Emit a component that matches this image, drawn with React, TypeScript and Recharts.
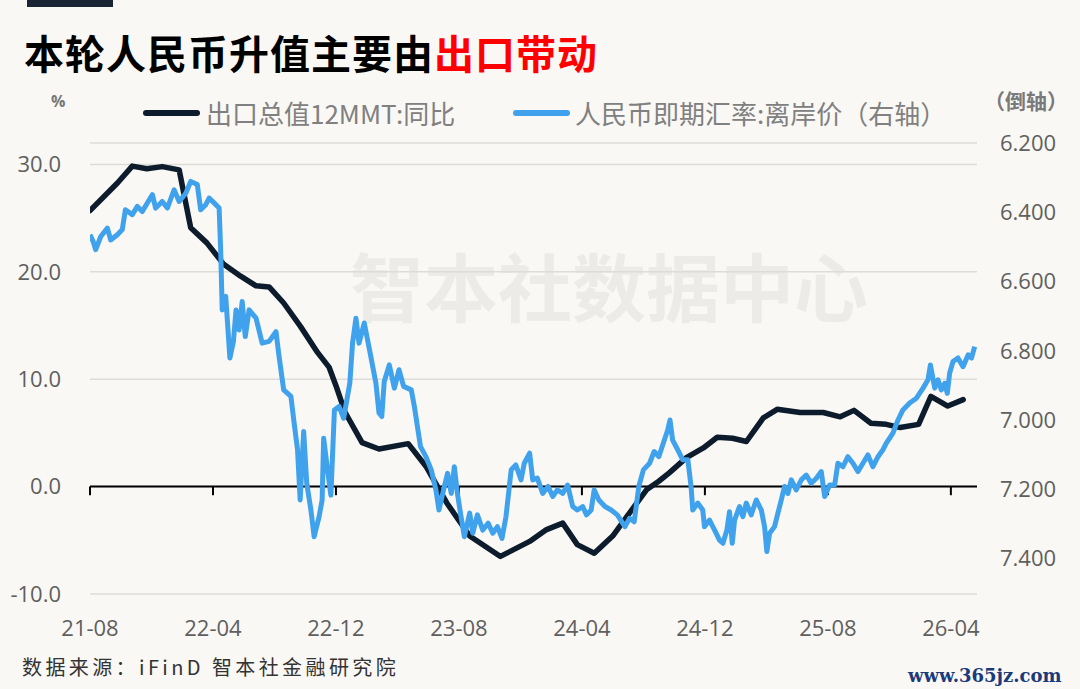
import React from 'react';
import { LineChart, Line, XAxis, YAxis, CartesianGrid, ReferenceLine } from 'recharts';

// months counted from 2021-08 (0) ; x-axis tick labels every 8 months
const tickMonths = [0, 8, 16, 24, 32, 40, 48, 56];
const tickLabels = ['21-08', '22-04', '22-12', '23-08', '24-04', '24-12', '25-08', '26-04'];

const leftTicks = [-10, 0, 10, 20, 30];
const rightTicks = [6.2, 6.4, 6.6, 6.8, 7.0, 7.2, 7.4];

// 出口总值12MMT:同比 (%)
const exportMonths = [
  0, 1.8, 2.75, 3.7, 4.7, 5.8, 6.55, 7.6, 8.7, 9.8, 10.8, 11.65, 12.6, 13.7, 14.8, 15.56, 16.0, 16.6,
  17.7, 18.8, 20.7, 21.85, 23.2, 24.7, 26.7, 28.6, 29.7, 30.75, 31.7, 32.8, 34.0, 35.1, 36.2, 37.0,
  37.7, 38.8, 39.9, 40.8, 41.8, 42.7, 43.8, 44.7, 46.2, 47.7, 48.8, 49.7, 50.8, 51.8, 52.7, 53.9,
  54.7, 55.8, 56.8,
];
const exportYoY = [
  25.7, 28.3, 29.85, 29.6, 29.8, 29.5, 24.1, 22.7, 20.7, 19.6, 18.7, 18.6, 17.1, 14.9, 12.5, 11.1, 9.4, 6.9,
  4.1, 3.5, 4.0, 1.9, -1.5, -4.6, -6.5, -5.1, -4.0, -3.4, -5.4, -6.2, -4.6, -2.45, -0.3, 0.5,
  1.3, 2.7, 3.6, 4.6, 4.5, 4.2, 6.4, 7.2, 6.9, 6.9, 6.5, 7.1, 5.9, 5.8, 5.5, 5.8,
  8.4, 7.5, 8.1,
];

// 人民币即期汇率:离岸价 (右轴, 倒轴)
const cnhMonths = [
  0, 0.2, 0.37, 0.7, 1.13, 1.35, 1.78, 2.1, 2.3, 2.75, 3.08, 3.4, 3.73, 4.06, 4.27, 4.7, 5.03, 5.47,
  5.8, 6.23, 6.55, 6.98, 7.2, 7.53, 7.75, 8.07, 8.4, 8.5, 8.6, 8.83, 9.1, 9.33, 9.5, 9.7, 9.9, 10.1,
  10.35, 10.8, 11.2, 11.65, 12.1, 12.3, 12.6, 13.07, 13.28, 13.5, 13.67, 13.9, 14.1, 14.37, 14.58,
  14.9, 15.1, 15.2, 15.45, 15.67, 15.9, 16.2, 16.5, 16.9, 17.08, 17.3, 17.5, 17.84, 18.16, 18.6, 18.8,
  18.98, 19.14, 19.47, 19.8, 20.1, 20.4, 20.9, 21.1, 21.3, 21.5, 21.85, 22.2, 22.5, 22.7, 23.05, 23.26,
  23.5, 23.7, 23.9, 24.1, 24.35, 24.7, 24.9, 25.2, 25.55, 25.9, 26.2, 26.5, 26.8, 27.06, 27.4, 27.7,
  28.04, 28.25, 28.6, 28.8, 29.1, 29.45, 29.8, 30.1, 30.4, 30.75, 31.07, 31.4, 31.7, 32.05, 32.3, 32.6,
  32.8, 33.1, 33.5, 33.9, 34.3, 34.8, 35.1, 35.4, 35.7, 36.0, 36.4, 36.7, 37.0, 37.58, 37.73, 37.9,
  38.23, 38.56, 38.89, 39.1, 39.21, 39.54, 39.86, 39.97, 40.3, 40.63, 40.95, 41.17, 41.43, 41.6, 41.78,
  41.93, 42.25, 42.47, 42.69, 43.01, 43.34, 43.67, 43.88, 44.03, 44.21, 44.53, 44.75, 44.97, 45.18,
  45.4, 45.62, 45.94, 46.27, 46.59, 46.92, 47.25, 47.57, 47.79, 48.11, 48.44, 48.65, 48.98, 49.3,
  49.63, 49.95, 50.28, 50.6, 50.93, 51.26, 51.58, 51.8, 52.23, 52.56, 52.88, 53.32, 53.76, 54.19,
  54.51, 54.67, 54.95, 55.16, 55.38, 55.6, 55.77, 55.92, 56.14, 56.46, 56.79, 57.12, 57.34, 57.55,
];
const cnhRate = [
  6.465, 6.484, 6.508, 6.47, 6.446, 6.48, 6.465, 6.45, 6.393, 6.407, 6.383, 6.398, 6.373, 6.349, 6.388, 6.369, 6.388, 6.335,
  6.369, 6.345, 6.311, 6.32, 6.393, 6.378, 6.359, 6.373, 6.388, 6.508, 6.682, 6.643, 6.821, 6.773, 6.682, 6.74, 6.658, 6.759,
  6.682, 6.706, 6.778, 6.773, 6.745, 6.817, 6.913, 6.932, 7.009, 7.086, 7.231, 7.033, 7.183, 7.26, 7.337,
  7.28, 7.231, 7.053, 7.144, 7.217, 6.971, 6.961, 6.995, 6.894, 6.778, 6.706, 6.778, 6.72, 6.792, 6.894, 6.98,
  6.99, 6.889, 6.841, 6.908, 6.855, 6.903, 6.913, 6.961, 7.019, 7.077, 7.106, 7.144, 7.202, 7.26, 7.192, 7.154,
  7.212, 7.135, 7.212, 7.269, 7.337, 7.269, 7.327, 7.274, 7.318, 7.298, 7.327, 7.308, 7.342, 7.279, 7.144, 7.13,
  7.173, 7.125, 7.096, 7.173, 7.168, 7.212, 7.192, 7.221, 7.202, 7.212, 7.188, 7.25, 7.26, 7.25, 7.274, 7.26,
  7.202, 7.231, 7.25, 7.26, 7.274, 7.308, 7.284, 7.294, 7.192, 7.144, 7.125, 7.091, 7.106, 7.029, 7.0, 7.058,
  7.086, 7.115, 7.115, 7.192, 7.26, 7.24, 7.26, 7.308, 7.289, 7.318, 7.347, 7.356, 7.318, 7.265, 7.356,
  7.289, 7.25, 7.279, 7.24, 7.274, 7.231, 7.26, 7.308, 7.38, 7.327, 7.308, 7.269, 7.231, 7.192,
  7.212, 7.173, 7.202, 7.173, 7.159, 7.183, 7.168, 7.149, 7.221, 7.188, 7.188, 7.125, 7.135, 7.106,
  7.125, 7.149, 7.125, 7.101, 7.135, 7.106, 7.086, 7.067, 7.038, 7.0, 6.971, 6.951, 6.937, 6.908,
  6.884, 6.841, 6.908, 6.884, 6.913, 6.894, 6.923, 6.865, 6.831, 6.821, 6.846, 6.812, 6.821, 6.788,
];

const exportData = exportMonths.map((m, i) => ({ m, v: exportYoY[i] }));
const cnhData = cnhMonths.map((m, i) => ({ m, v: cnhRate[i] }));

const DARK = '#0d1c2c';
const BLUE = '#40a2ec';
const AXIS_TEXT = '#5f5f5f';
const numFont = '"Open Sans", "Noto Sans", sans-serif';
const cjkFont = '"Noto Sans CJK SC", "Noto Sans", sans-serif';

export default function App() {
  return (
    <div style={{ position: 'absolute', left: 0, top: 0, width: 1080, height: 689, background: '#f9f8f5', overflow: 'hidden', fontFamily: cjkFont }}>
      {/* top bar + title */}
      <div style={{ position: 'absolute', left: 27, top: 0, width: 86, height: 7, background: '#1a2535' }} />
      <div style={{ position: 'absolute', left: 24, top: 30, fontSize: 40, lineHeight: '44px', fontWeight: 700, color: '#000', letterSpacing: 1, whiteSpace: 'nowrap' }}>
        本轮人民币升值主要由<span style={{ color: '#ff0000' }}>出口带动</span>
      </div>

      {/* watermark */}
      <div style={{ position: 'absolute', left: 350, top: 244, fontSize: 74, lineHeight: '80px', fontWeight: 700, color: '#ecebe7', whiteSpace: 'nowrap' }}>
        智本社数据中心
      </div>

      {/* axis units */}
      <div style={{ position: 'absolute', left: 51, top: 90, fontSize: 16, fontWeight: 700, color: '#777', fontFamily: numFont }}>%</div>
      <div style={{ position: 'absolute', left: 984, top: 86, fontSize: 21, lineHeight: '28px', fontWeight: 700, color: '#7a7a7a', whiteSpace: 'nowrap' }}>（倒轴）</div>

      {/* legend */}
      <div style={{ position: 'absolute', left: 143, top: 110, width: 57, height: 6, borderRadius: 3, background: DARK }} />
      <div style={{ position: 'absolute', left: 206, top: 96, fontSize: 26, lineHeight: '34px', color: '#808080', whiteSpace: 'nowrap' }}>出口总值12MMT:同比</div>
      <div style={{ position: 'absolute', left: 513, top: 110, width: 57, height: 6, borderRadius: 3, background: BLUE }} />
      <div style={{ position: 'absolute', left: 575, top: 96, fontSize: 26, lineHeight: '34px', color: '#808080', whiteSpace: 'nowrap' }}>人民币即期汇率:离岸价（右轴）</div>

      <div style={{ position: 'absolute', left: 0, top: 0 }}>
        <LineChart width={1080} height={689} margin={{ top: 143, right: 0, bottom: 35, left: 0 }}>
          <CartesianGrid yAxisId="left" vertical={false} stroke="#dddcd8" strokeWidth={1.5} />
          <XAxis
            dataKey="m"
            type="number"
            domain={[0, 57.7]}
            allowDataOverflow
            ticks={tickMonths}
            tickFormatter={(m: number) => tickLabels[tickMonths.indexOf(m)]}
            axisLine={false}
            tickLine={false}
            tickSize={0}
            tickMargin={26}
            height={60}
            interval={0}
            tick={{ fontSize: 22, fill: AXIS_TEXT, fontFamily: numFont }}
          />
          <YAxis
            yAxisId="left"
            type="number"
            domain={[-10, 32]}
            allowDataOverflow
            ticks={leftTicks}
            tickFormatter={(v: number) => v.toFixed(1)}
            axisLine={false}
            tickLine={false}
            tickSize={0}
            tickMargin={29}
            width={90}
            interval={0}
            tick={{ fontSize: 22, fill: AXIS_TEXT, fontFamily: numFont }}
          />
          <YAxis
            yAxisId="right"
            orientation="right"
            type="number"
            domain={[6.2, 7.5026]}
            reversed
            allowDataOverflow
            ticks={rightTicks}
            tickFormatter={(v: number) => v.toFixed(3)}
            axisLine={false}
            tickLine={false}
            tickSize={0}
            tickMargin={23}
            width={103}
            interval={0}
            tick={{ fontSize: 22, fill: AXIS_TEXT, fontFamily: numFont }}
          />

          {/* zero line acts as the category axis */}
          <ReferenceLine yAxisId="left" y={0} stroke="#000" strokeWidth={2} />
          {tickMonths.map((m) => (
            <ReferenceLine
              key={m}
              yAxisId="left"
              segment={[{ x: m, y: 0 }, { x: m, y: -0.8 }]}
              stroke="#000"
              strokeWidth={2}
            />
          ))}

          <Line
            yAxisId="left"
            data={exportData}
            dataKey="v"
            type="linear"
            stroke={DARK}
            strokeWidth={5.5}
            strokeLinejoin="round"
            strokeLinecap="round"
            dot={false}
            isAnimationActive={false}
          />
          <Line
            yAxisId="right"
            data={cnhData}
            dataKey="v"
            type="linear"
            stroke={BLUE}
            strokeWidth={5}
            strokeLinejoin="round"
            dot={false}
            isAnimationActive={false}
          />
        </LineChart>
      </div>

      {/* source + corner mark */}
      <div style={{ position: 'absolute', left: 22, top: 654, fontSize: 20, lineHeight: '26px', color: '#333', letterSpacing: 3.4, whiteSpace: 'nowrap' }}>
        数据来源：iFinD 智本社金融研究院
      </div>
      <div style={{ position: 'absolute', left: 908, top: 664, fontSize: 18, lineHeight: '24px', fontWeight: 700, color: '#1b3a7a', fontFamily: '"DejaVu Serif", serif', whiteSpace: 'nowrap' }}>
        www.365jz.com
      </div>
    </div>
  );
}
